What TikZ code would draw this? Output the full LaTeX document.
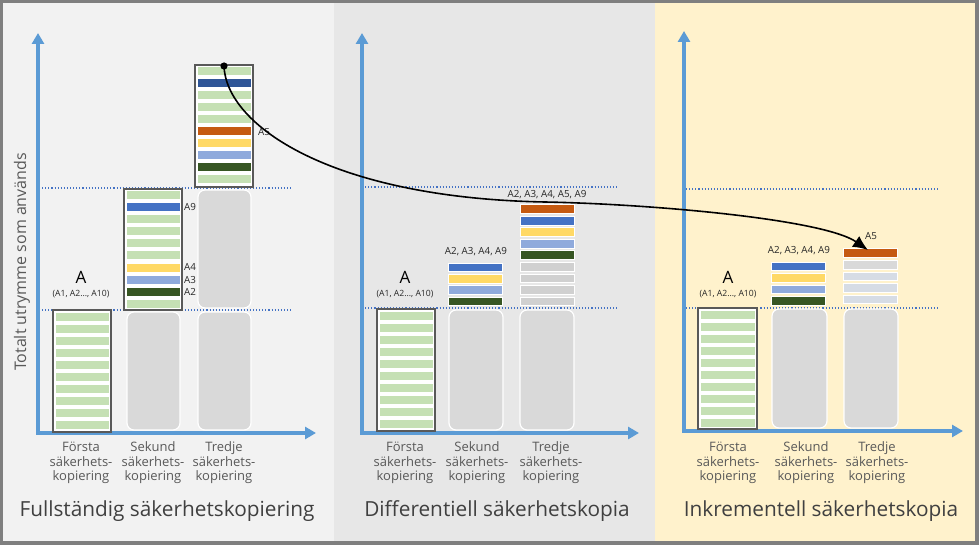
\documentclass[tikz,border=0pt]{standalone}
\usepackage{fontspec}
\setmainfont{Open Sans}
\usetikzlibrary{arrows.meta}

\definecolor{framegrey}{HTML}{7F7F7F}
\definecolor{leftbg}{HTML}{F2F2F2}
\definecolor{midbg}{HTML}{E7E7E7}
\definecolor{rightbg}{HTML}{FFF2CC}
\definecolor{axisblue}{HTML}{5B9BD5}
\definecolor{guideblue}{HTML}{4472C4}
\definecolor{boxgrey}{HTML}{595959}
\definecolor{slotgrey}{HTML}{D9D9D9}
\definecolor{capgrey}{HTML}{595959}
\definecolor{titlegrey}{HTML}{404040}
\definecolor{pgreen}{HTML}{C5E0B4}
\definecolor{pnavy}{HTML}{2F5597}
\definecolor{pblue}{HTML}{4472C4}
\definecolor{porange}{HTML}{C55A11}
\definecolor{pyellow}{HTML}{FFD966}
\definecolor{psky}{HTML}{8FAADC}
\definecolor{pforest}{HTML}{375623}
\definecolor{pgrey}{HTML}{D0D0D0}
\definecolor{plight}{HTML}{D9D9D9}
\definecolor{pslate}{HTML}{D6DCE5}

\begin{document}
\begin{tikzpicture}[x=1pt,y=-1pt,
  axis/.style={draw=axisblue,line width=3.5pt,-{Triangle[length=11pt,width=12pt]}},
  guide/.style={draw=guideblue,line width=1.1pt,dotted},
  frame/.style={draw=boxgrey,line width=1.2pt,fill=white},
  bar/.style={draw=white,line width=1pt},
  slot/.style={fill=slotgrey,draw=white,line width=1.2pt,rounded corners=7pt},
  caption/.style={align=center,font=\fontsize{13}{14.5}\selectfont,text=capgrey},
  title/.style={font=\fontsize{20.8}{24}\selectfont,text=titlegrey},
  tag/.style={font=\fontsize{9.8}{11}\selectfont,text=black!85,inner sep=1pt},
  big/.style={font=\fontsize{17}{20}\selectfont,inner sep=0pt},
  small/.style={font=\fontsize{8.6}{10}\selectfont,text=black!85,inner sep=0pt},
  link/.style={draw=black,line width=1.6pt,-{Latex[length=15pt,width=13pt]}}]

% panels
\fill[framegrey] (0,0) rectangle (979,545);
\fill[leftbg] (3,3) rectangle (334,541);
\fill[midbg] (334,3) rectangle (655,541);
\fill[rightbg] (655,3) rectangle (975,541);

% level guides
\draw[guide] (39,188) -- (293,188);
\draw[guide] (39,310) -- (293,310);
\draw[guide] (362,187) -- (618,187);
\draw[guide] (362,308) -- (618,308);
\draw[guide] (686,189) -- (938,189);
\draw[guide] (686,308) -- (938,308);

% axes
\draw[axis] (38,433) -- (38,33);
\draw[axis] (36,433) -- (316,433);
\draw[axis] (362,433) -- (362,33);
\draw[axis] (360,433) -- (639,433);
\draw[axis] (684,431) -- (684,31);
\draw[axis] (682,431) -- (963,431);

\node[rotate=90,font=\fontsize{16}{19}\selectfont,text=capgrey] (ylab) at (22,262) {Totalt utrymme som används};

%% Fullständig
\draw[frame] (53,310) rectangle (111,432);
\foreach \i in {0,...,9}
  \draw[bar,fill=pgreen] (55,{312+\i*12}) rectangle ++(54,9);
\node[big] (fullA) at (81,277) {A};
\node[small] (fullAs) at (81,294) {(A1, A2..., A10)};

\draw[slot] (127,312) rectangle (180,430);
\draw[frame] (124,189) rectangle (182,310);
\foreach \c [count=\i from 0] in {pgreen,pblue,pgreen,pgreen,pgreen,pgreen,pyellow,psky,pforest,pgreen}
  \draw[bar,fill=\c] (126,{191+\i*12}) rectangle ++(54,9);
\node[tag,anchor=west] (fullA9) at (183,207) {A9};
\node[tag,anchor=west] (fullA4) at (183,267) {A4};
\node[tag,anchor=west] (fullA3) at (183,280) {A3};
\node[tag,anchor=west] (fullA2) at (183,292) {A2};

\draw[slot] (198,312) rectangle (251,430);
\draw[slot] (198,190) rectangle (251,308);
\draw[frame] (195,65) rectangle (253,187);
\foreach \c [count=\i from 0] in {pgreen,pnavy,pgreen,pgreen,pgreen,porange,pyellow,psky,pforest,pgreen}
  \draw[bar,fill=\c] (197,{67+\i*12}) rectangle ++(54,9);
\node[tag,anchor=west] (fullA5) at (257,132) {A5};

\node[caption] (full1) at (81,463) {Första\\säkerhets-\\kopiering};
\node[caption] (full2) at (153,463) {Sekund\\säkerhets-\\kopiering};
\node[caption] (full3) at (224,463) {Tredje\\säkerhets-\\kopiering};
\node[title] (fullT) at (167,511) {Fullständig säkerhetskopiering};

%% Differentiell
\draw[frame] (377,309) rectangle (435,431);
\foreach \i in {0,...,9}
  \draw[bar,fill=pgreen] (379,{311+\i*12}) rectangle ++(54,9);
\node[big] (diffA) at (405,277) {A};
\node[small] (diffAs) at (405,294) {(A1, A2..., A10)};

\draw[slot] (449,310) rectangle (503,430);
\foreach \c [count=\i from 0] in {pblue,pyellow,psky,pforest}
  \draw[bar,fill=\c] (448,{263+\i*11.4}) rectangle ++(54,8.6);
\node[tag] (diff2) at (476,252) {A2, A3, A4, A9};

\draw[slot] (520,310) rectangle (574,430);
\foreach \c [count=\i from 0] in {porange,pblue,pyellow,psky,pforest,pgrey,pgrey,pgrey,pgrey}
  \draw[bar,fill=\c] (520,{205+\i*11.5}) rectangle ++(54,8.6);
\node[tag] (diff3) at (547,195) {A2, A3, A4, A5, A9};

\node[caption] (diff1c) at (405,463) {Första\\säkerhets-\\kopiering};
\node[caption] (diff2c) at (477,463) {Sekund\\säkerhets-\\kopiering};
\node[caption] (diff3c) at (551,463) {Tredje\\säkerhets-\\kopiering};
\node[title] (diffT) at (497,511) {Differentiell säkerhetskopia};

%% Inkrementell
\draw[frame] (698,308) rectangle (757,429);
\foreach \i in {0,...,9}
  \draw[bar,fill=pgreen] (700,{310+\i*12}) rectangle ++(55,9);
\node[big] (incA) at (728,277) {A};
\node[small] (incAs) at (728,294) {(A1, A2..., A10)};

\draw[slot] (772,309) rectangle (827,428);
\foreach \c [count=\i from 0] in {pblue,pyellow,psky,pforest}
  \draw[bar,fill=\c] (771,{262+\i*11.5}) rectangle ++(54,8.6);
\node[tag] (inc2) at (799,251) {A2, A3, A4, A9};

\draw[slot] (844,309) rectangle (898,428);
\foreach \c [count=\i from 0] in {porange,plight,pslate,pslate,pslate}
  \draw[bar,fill=\c] (843,{249+\i*11.5}) rectangle ++(54,8.6);
\node[tag] (inc3) at (871,236) {A5};

\node[caption] (inc1c) at (728,463) {Första\\säkerhets-\\kopiering};
\node[caption] (inc2c) at (806,463) {Sekund\\säkerhets-\\kopiering};
\node[caption] (inc3c) at (877,463) {Tredje\\säkerhets-\\kopiering};
\node[title] (incT) at (821,511) {Inkrementell säkerhetskopia};

% A5 moves on
\coordinate (src) at (224,66);
\coordinate (via) at (545,202);
\coordinate (dst) at (868,250);
\draw[link] (src) .. controls (226,125) and (330,198) .. (via)
  .. controls (650,204) and (823,219) .. (dst);
\fill (src) circle (3.6);
\end{tikzpicture}
\end{document}
